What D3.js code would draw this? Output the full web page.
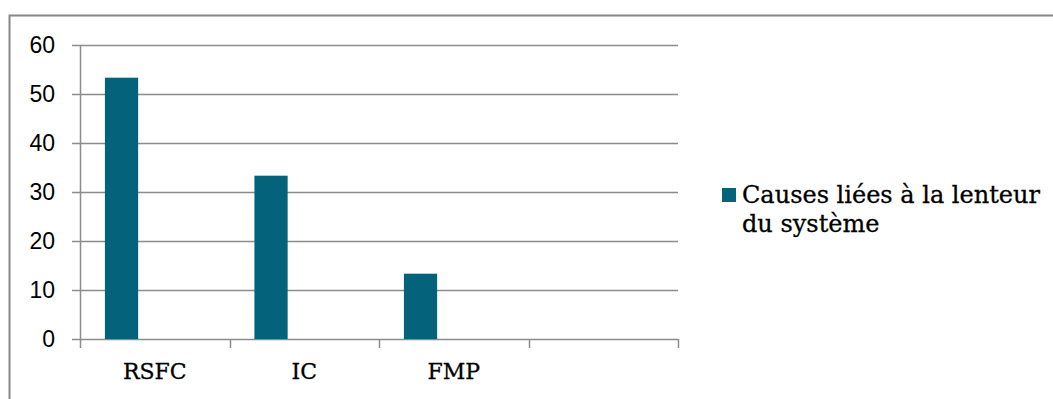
<!DOCTYPE html>
<html>
<head>
<meta charset="utf-8">
<script src="https://cdn.jsdelivr.net/npm/d3@7"></script>
<style>
  html, body { margin: 0; padding: 0; background: #fff; }
  svg { display: block; }
</style>
</head>
<body>
<svg id="chart" width="1053" height="399"></svg>
<script>
// Chart data
const categories = ["RSFC", "IC", "FMP", ""];
const seriesName = "Causes liées à la lenteur du système";
const values = [53.33, 33.33, 13.33, null];
const yTicks = [0, 10, 20, 30, 40, 50, 60];

const svg = d3.select("#chart");
const W = 1053, H = 399;
const plot = { left: 80, right: 678, top: 45, bottom: 339 };
const barColor = "#04627b";
const gridColor = "#8c8c8c";
const serif = "'DejaVu Serif', 'Liberation Serif', serif";
const sans = "'Liberation Sans', Arial, sans-serif";

// Outer frame
svg.append("rect")
  .attr("x", 9.5).attr("y", 15.5)
  .attr("width", W + 20).attr("height", H + 20)
  .attr("fill", "#fff")
  .attr("stroke", "#888").attr("stroke-width", 2);

const x = d3.scaleBand()
  .domain(d3.range(categories.length))
  .range([plot.left, plot.right])
  .paddingInner(0).paddingOuter(0);

const y = d3.scaleLinear().domain([0, 60]).range([plot.bottom, plot.top]);

// Horizontal gridlines
svg.append("g")
  .selectAll("line")
  .data(yTicks)
  .join("line")
  .attr("x1", plot.left - 8).attr("x2", plot.right)
  .attr("y1", d => Math.round(y(d)) + 0.5)
  .attr("y2", d => Math.round(y(d)) + 0.5)
  .attr("stroke", gridColor).attr("stroke-width", 1.5);

// Y axis line
svg.append("line")
  .attr("x1", plot.left + 0.5).attr("x2", plot.left + 0.5)
  .attr("y1", plot.top).attr("y2", plot.bottom + 9)
  .attr("stroke", gridColor).attr("stroke-width", 1.5);

// Y tick labels
svg.append("g")
  .selectAll("text")
  .data(yTicks)
  .join("text")
  .attr("x", 55).attr("y", d => y(d))
  .attr("dy", "0.35em")
  .attr("text-anchor", "end")
  .attr("font-family", sans).attr("font-size", 23)
  .attr("fill", "#000")
  .text(d => d);

// Category tick marks on the x axis
const catEdges = d3.range(categories.length + 1).map(i =>
  i < categories.length ? x(i) : x(categories.length - 1) + x.bandwidth());
svg.append("g")
  .selectAll("line")
  .data(catEdges.slice(1))
  .join("line")
  .attr("x1", d => Math.round(d) + 0.5).attr("x2", d => Math.round(d) + 0.5)
  .attr("y1", plot.bottom).attr("y2", plot.bottom + 9)
  .attr("stroke", gridColor).attr("stroke-width", 1.5);

// Bars: the series occupies the first of three slots in each category (gap 150%)
const slot = x.bandwidth() / 4.5;
svg.append("g")
  .selectAll("rect")
  .data(values.map((v, i) => ({ v, i })).filter(d => d.v != null))
  .join("rect")
  .attr("x", d => x(d.i) + 0.75 * slot)
  .attr("width", slot)
  .attr("y", d => y(d.v))
  .attr("height", d => y(0) - y(d.v))
  .attr("fill", barColor);

// Category labels
svg.append("g")
  .selectAll("text")
  .data(categories)
  .join("text")
  .attr("x", (d, i) => x(i) + x.bandwidth() / 2)
  .attr("y", 379)
  .attr("text-anchor", "middle")
  .attr("font-family", serif).attr("font-size", 22)
  .attr("fill", "#000")
  .attr("stroke", "#000").attr("stroke-width", 0.3)
  .text(d => d);

// Legend
const legend = svg.append("g");
legend.append("rect")
  .attr("x", 722).attr("y", 188)
  .attr("width", 14).attr("height", 14)
  .attr("fill", barColor);
const lt = legend.append("text")
  .attr("font-family", serif).attr("font-size", 24)
  .attr("fill", "#000")
  .attr("stroke", "#000").attr("stroke-width", 0.3);
lt.append("tspan").attr("x", 742).attr("y", 203).text("Causes liées à la lenteur");
lt.append("tspan").attr("x", 742).attr("y", 232).text("du système");
</script>
</body>
</html>
